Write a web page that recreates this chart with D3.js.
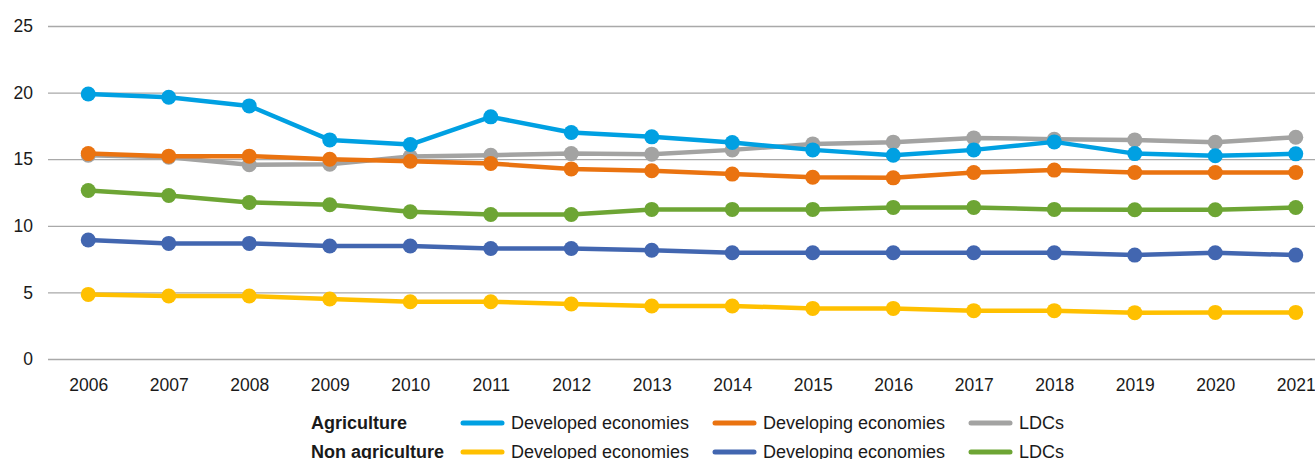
<!DOCTYPE html>
<html>
<head>
<meta charset="utf-8">
<script src="https://cdn.jsdelivr.net/npm/d3@7"></script>
<style>
  html, body { margin: 0; padding: 0; background: #fff; }
  svg { display: block; font-family: "Liberation Sans", Arial, Helvetica, sans-serif; }
</style>
</head>
<body>
<svg id="chart" width="1315" height="459"></svg>
<script>
const years = ["2006","2007","2008","2009","2010","2011","2012","2013","2014","2015","2016","2017","2018","2019","2020","2021"];
const yTicks = [0, 5, 10, 15, 20, 25];

const agriDeveloped   = [19.9, 19.65, 19.0, 16.45, 16.1, 18.18, 17.0, 16.68, 16.25, 15.7, 15.3, 15.7, 16.3, 15.42, 15.26, 15.4];
const agriDeveloping  = [15.42, 15.23, 15.23, 15.0, 14.85, 14.68, 14.27, 14.13, 13.88, 13.65, 13.6, 14.0, 14.18, 14.0, 14.0, 14.0];
const agriLDCs        = [15.3, 15.15, 14.58, 14.62, 15.2, 15.3, 15.42, 15.38, 15.7, 16.15, 16.28, 16.6, 16.5, 16.45, 16.27, 16.65];
const nonDeveloped    = [4.85, 4.73, 4.73, 4.5, 4.3, 4.3, 4.13, 3.98, 3.98, 3.8, 3.8, 3.63, 3.63, 3.48, 3.5, 3.5];
const nonDeveloping   = [8.93, 8.68, 8.68, 8.48, 8.48, 8.3, 8.3, 8.16, 7.98, 7.98, 7.98, 7.98, 7.98, 7.8, 7.98, 7.8];
const nonLDCs         = [12.65, 12.28, 11.75, 11.58, 11.05, 10.85, 10.85, 11.23, 11.23, 11.23, 11.38, 11.38, 11.23, 11.2, 11.2, 11.37];

const groupLabels = ["Agriculture", "Non agriculture"];
const seriesLabels = ["Developed economies", "Developing economies", "LDCs"];

const series = [
  { name: "Agriculture LDCs", values: agriLDCs, color: "#A3A3A2", row: 0, col: 2 },
  { name: "Agriculture Developing economies", values: agriDeveloping, color: "#EA7310", row: 0, col: 1 },
  { name: "Agriculture Developed economies", values: agriDeveloped, color: "#00A0E2", row: 0, col: 0 },
  { name: "Non agriculture LDCs", values: nonLDCs, color: "#6DA534", row: 1, col: 2 },
  { name: "Non agriculture Developing economies", values: nonDeveloping, color: "#4266B0", row: 1, col: 1 },
  { name: "Non agriculture Developed economies", values: nonDeveloped, color: "#FFC000", row: 1, col: 0 }
];

const svg = d3.select("#chart");

const x = d3.scalePoint().domain(years).range([48, 1336]).padding(0.5);
const y = d3.scaleLinear().domain([0, 25]).range([359, 26]);

// gridlines
const yAxis = d3.axisLeft(y).tickValues(yTicks).tickSize(-(1336 - 48)).tickPadding(15);
const gy = svg.append("g").attr("transform", "translate(48,0)").call(yAxis);
gy.select(".domain").remove();
gy.selectAll(".tick line").attr("stroke", "#A9A9A9").attr("stroke-width", 1.3);
gy.selectAll(".tick text").attr("font-size", 17.5).attr("fill", "#1a1a1a")
  .attr("font-family", "'Liberation Sans', Arial, sans-serif");

// x axis labels
const xAxis = d3.axisBottom(x).tickSize(0).tickPadding(0);
const gx = svg.append("g").attr("transform", "translate(0,379)").call(xAxis);
gx.select(".domain").remove();
gx.selectAll(".tick text").attr("font-size", 17.5).attr("fill", "#1a1a1a")
  .attr("font-family", "'Liberation Sans', Arial, sans-serif");

// lines
const line = d3.line().x((d, i) => x(years[i])).y(d => y(d));
series.forEach(s => {
  const g = svg.append("g");
  g.append("path").attr("d", line(s.values)).attr("fill", "none")
    .attr("stroke", s.color).attr("stroke-width", 4.5).attr("stroke-linejoin", "round");
  g.selectAll("circle").data(s.values).enter().append("circle")
    .attr("cx", (d, i) => x(years[i])).attr("cy", d => y(d)).attr("r", 7.5)
    .attr("fill", s.color);
});

// legend
const legendRowY = [423, 452];
const swatchX = [461, 713, 969];
const legend = svg.append("g").attr("font-size", 18).attr("fill", "#1a1a1a");
groupLabels.forEach((gl, r) => {
  legend.append("text").attr("x", 311).attr("y", legendRowY[r]).attr("dy", "0.35em")
    .attr("font-weight", "bold").text(gl);
});
series.forEach(s => {
  const yy = legendRowY[s.row];
  const sx = swatchX[s.col];
  legend.append("line").attr("x1", sx + 2).attr("x2", sx + 41).attr("y1", yy).attr("y2", yy)
    .attr("stroke", s.color).attr("stroke-width", 5).attr("stroke-linecap", "round");
  legend.append("text").attr("x", sx + 50).attr("y", yy).attr("dy", "0.35em").text(seriesLabels[s.col]);
});
</script>
</body>
</html>
